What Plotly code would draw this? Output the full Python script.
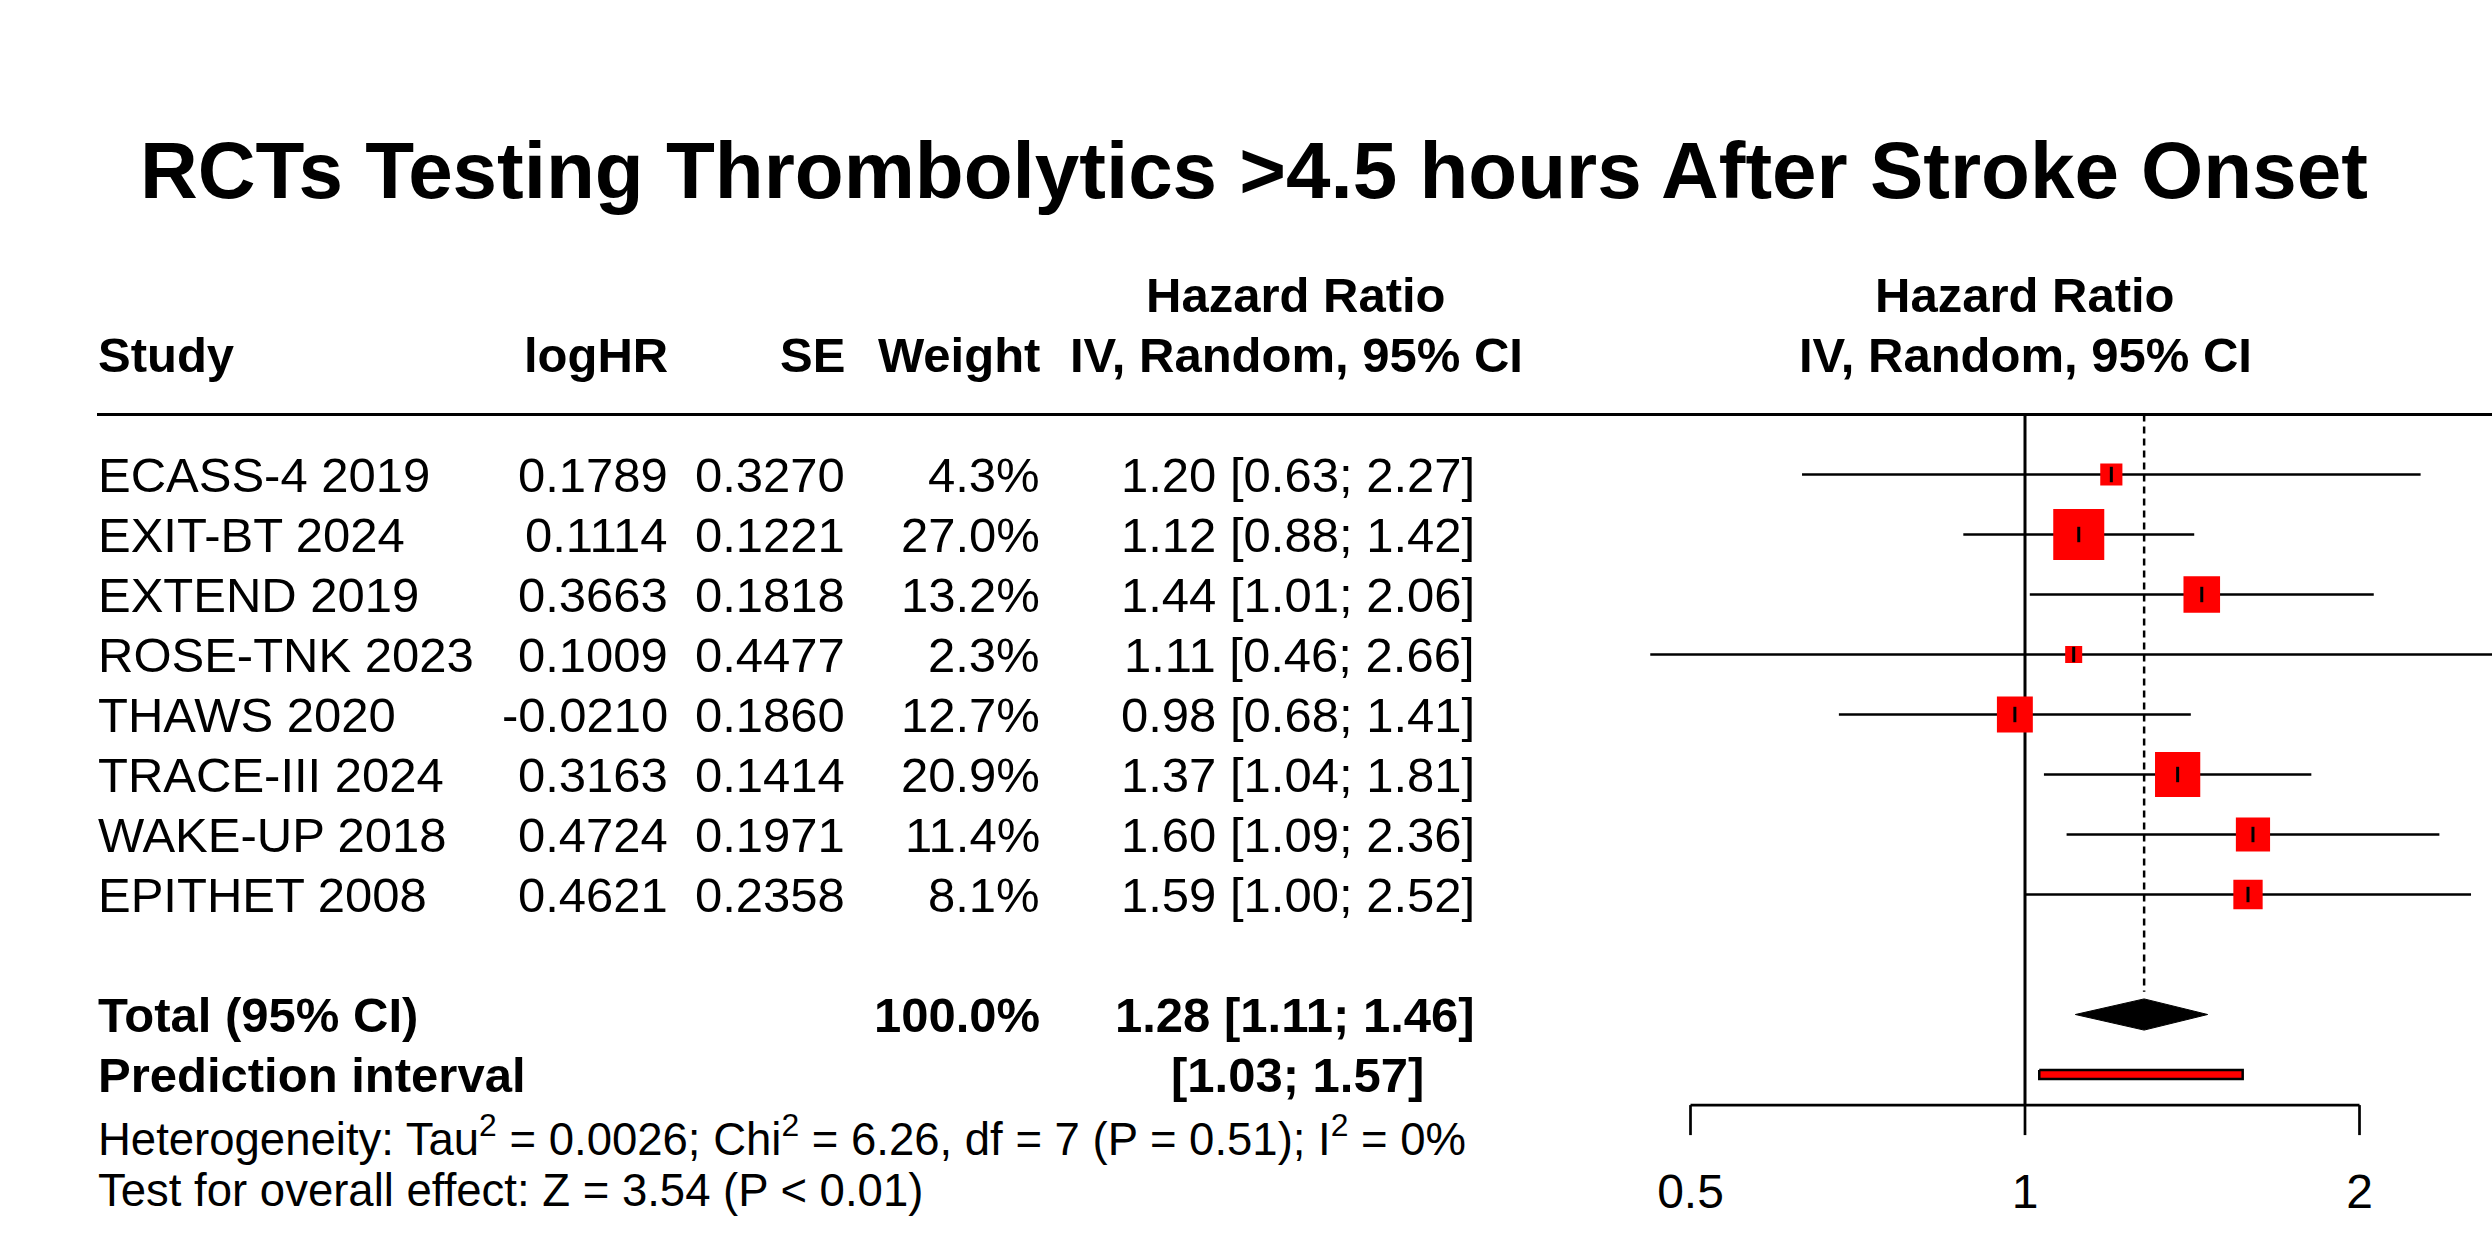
import math
import plotly.graph_objects as go

W, H = 2492, 1241
FONT = "Liberation Sans, Arial, Helvetica, sans-serif"

# ---------------- data ----------------
title = "RCTs Testing Thrombolytics >4.5 hours After Stroke Onset"
studies = ["ECASS-4 2019", "EXIT-BT 2024", "EXTEND 2019", "ROSE-TNK 2023",
           "THAWS 2020", "TRACE-III 2024", "WAKE-UP 2018", "EPITHET 2008"]
loghr = [0.1789, 0.1114, 0.3663, 0.1009, -0.0210, 0.3163, 0.4724, 0.4621]
se = [0.3270, 0.1221, 0.1818, 0.4477, 0.1860, 0.1414, 0.1971, 0.2358]
weights = [4.3, 27.0, 13.2, 2.3, 12.7, 20.9, 11.4, 8.1]
hr = [1.20, 1.12, 1.44, 1.11, 0.98, 1.37, 1.60, 1.59]
ci_lower = [0.63, 0.88, 1.01, 0.46, 0.68, 1.04, 1.09, 1.00]
ci_upper = [2.27, 1.42, 2.06, 2.66, 1.41, 1.81, 2.36, 2.52]
total_weight = 100.0
total_hr, total_lower, total_upper = 1.28, 1.11, 1.46
pred_lower, pred_upper = 1.03, 1.57
het_text = ("Heterogeneity: Tau<sup>2</sup> = 0.0026; Chi<sup>2</sup> = 6.26, df = 7 "
            "(P = 0.51); I<sup>2</sup> = 0%")
test_text = "Test for overall effect: Z = 3.54 (P &lt; 0.01)"
tick_vals = [0.5, 1, 2]
tick_labels = ["0.5", "1", "2"]

# ---------------- layout geometry (pixels / rows) ----------------
ROW0_PX, ROW_PX = 474.5, 60.0          # row 0 centre, row spacing
X1_PX, PX_PER_DEC = 2025.0, 334.5 / math.log10(2)
rows = list(range(len(studies)))
ROW_TOTAL, ROW_PRED = len(studies) + 1, len(studies) + 2
ROW_HET, ROW_TEST = ROW_PRED + 1.03, ROW_PRED + 1.93
ROW_LINE = -1
ROW_AXIS, ROW_TICK, ROW_TICKLAB = 10.51, 11.01, 12.02

def px2paper(px):
    return px / W

yr = [(H - ROW0_PX) / ROW_PX, -ROW0_PX / ROW_PX]
xr = [-X1_PX / PX_PER_DEC, (W - X1_PX) / PX_PER_DEC]

fig = go.Figure()
annotations = []

def txt(xpx, row, text, anchor="left", bold=False, size=49):
    annotations.append(dict(
        x=px2paper(xpx), y=row, xref="paper", yref="y",
        text=f"<b>{text}</b>" if bold else text, showarrow=False,
        xanchor=anchor, yanchor="middle", borderpad=0,
        font=dict(size=size, family=FONT, color="black")))

# title
txt(1254, -5.07, title, anchor="center", bold=True, size=80)

# headers
COL_STUDY, COL_LOG, COL_SE, COL_W, COL_CI, COL_CIH = 97, 669, 846, 1041, 1476, 1296
txt(COL_STUDY, -2, "Study", bold=True)
txt(COL_LOG, -2, "logHR", anchor="right", bold=True)
txt(COL_SE, -2, "SE", anchor="right", bold=True)
txt(COL_W, -2, "Weight", anchor="right", bold=True)
txt(COL_CIH, -3, "Hazard Ratio", anchor="center", bold=True)
txt(COL_CIH, -2, "IV, Random, 95% CI", anchor="center", bold=True)
txt(X1_PX, -3, "Hazard Ratio", anchor="center", bold=True)
txt(X1_PX, -2, "IV, Random, 95% CI", anchor="center", bold=True)

# study rows
for r, s, l, e, w, h, lo, hi in zip(rows, studies, loghr, se, weights, hr, ci_lower, ci_upper):
    txt(COL_STUDY, r, s)
    txt(COL_LOG, r, f"{l:.4f}", anchor="right")
    txt(COL_SE, r, f"{e:.4f}", anchor="right")
    txt(COL_W, r, f"{w:.1f}%", anchor="right")
    txt(COL_CI, r, f"{h:.2f} [{lo:.2f}; {hi:.2f}]", anchor="right")

# summary rows
txt(COL_STUDY, ROW_TOTAL, "Total (95% CI)", bold=True)
txt(COL_W, ROW_TOTAL, f"{total_weight:.1f}%", anchor="right", bold=True)
txt(COL_CI, ROW_TOTAL, f"{total_hr:.2f} [{total_lower:.2f}; {total_upper:.2f}]", anchor="right", bold=True)
txt(COL_STUDY, ROW_PRED, "Prediction interval", bold=True)
txt(1425, ROW_PRED, f"[{pred_lower:.2f}; {pred_upper:.2f}]", anchor="right", bold=True)
txt(COL_STUDY, ROW_HET, het_text, size=45.5)
txt(COL_STUDY, ROW_TEST, test_text, size=45.5)

# ---------------- forest marks ----------------
# CI lines
cx, cy = [], []
for r, lo, hi in zip(rows, ci_lower, ci_upper):
    cx += [lo, hi, None]
    cy += [r, r, None]
fig.add_trace(go.Scatter(x=cx, y=cy, mode="lines", line=dict(color="black", width=2.5),
                         hoverinfo="skip"))

# line of no effect
fig.add_trace(go.Scatter(x=[tick_vals[1], tick_vals[1]], y=[ROW_LINE, ROW_AXIS], mode="lines",
                         line=dict(color="black", width=3), hoverinfo="skip"))

# dashed overall effect line
DIAM_H = 0.26
fig.add_trace(go.Scatter(x=[total_hr, total_hr], y=[ROW_LINE, ROW_TOTAL - DIAM_H - 0.12],
                         mode="lines", line=dict(color="black", width=2.5, dash="7px,5px"),
                         hoverinfo="skip"))

# squares
est = [math.exp(v) for v in loghr]
fig.add_trace(go.Scatter(
    x=est, y=rows, mode="markers",
    marker=dict(symbol="square", size=[9.24 * math.sqrt(w) for w in weights],
                color="#FF0000", opacity=1, line=dict(color="#FF0000", width=3)),
    hoverinfo="skip"))
# point ticks
fig.add_trace(go.Scatter(
    x=est, y=rows, mode="markers",
    marker=dict(symbol="line-ns", size=11, color="black", opacity=1,
                line=dict(color="black", width=3)),
    hoverinfo="skip"))

# diamond
fig.add_trace(go.Scatter(
    x=[total_lower, total_hr, total_upper, total_hr, total_lower],
    y=[ROW_TOTAL, ROW_TOTAL - DIAM_H, ROW_TOTAL, ROW_TOTAL + DIAM_H, ROW_TOTAL],
    mode="lines", fill="toself", fillcolor="black", line=dict(color="black", width=1),
    hoverinfo="skip"))

# prediction interval bar
PH = 0.075
fig.add_trace(go.Scatter(
    x=[pred_lower, pred_upper, pred_upper, pred_lower, pred_lower],
    y=[ROW_PRED - PH, ROW_PRED - PH, ROW_PRED + PH, ROW_PRED + PH, ROW_PRED - PH],
    mode="lines", fill="toself", fillcolor="#FF0000", line=dict(color="black", width=2.5),
    hoverinfo="skip"))

# x axis (drawn)
ax_x, ax_y = [tick_vals[0], tick_vals[-1]], [ROW_AXIS, ROW_AXIS]
fig.add_trace(go.Scatter(x=ax_x, y=ax_y, mode="lines", line=dict(color="black", width=2.7),
                         hoverinfo="skip"))
tx, ty = [], []
for t in tick_vals:
    tx += [t, t, None]
    ty += [ROW_AXIS, ROW_TICK, None]
fig.add_trace(go.Scatter(x=tx, y=ty, mode="lines", line=dict(color="black", width=2.7),
                         hoverinfo="skip"))
fig.add_trace(go.Scatter(x=tick_vals, y=[ROW_TICKLAB] * len(tick_vals), mode="text",
                         text=tick_labels, textposition="middle center",
                         textfont=dict(size=48, family=FONT, color="black"), hoverinfo="skip"))

# header rule
shapes = [dict(type="line", xref="paper", yref="y", x0=px2paper(97), x1=1,
               y0=ROW_LINE, y1=ROW_LINE, line=dict(color="black", width=3))]

fig.update_layout(
    width=W, height=H, margin=dict(l=0, r=0, t=0, b=0, pad=0),
    paper_bgcolor="white", plot_bgcolor="white", showlegend=False,
    xaxis=dict(type="log", range=xr, visible=False, domain=[0, 1], fixedrange=True),
    yaxis=dict(range=yr, visible=False, domain=[0, 1], fixedrange=True),
    annotations=annotations, shapes=shapes,
    font=dict(family=FONT, color="black"),
)

fig.write_html("out.html", config={"displayModeBar": False},
               post_script="document.body.style.margin='0';document.body.style.overflow='hidden';")
